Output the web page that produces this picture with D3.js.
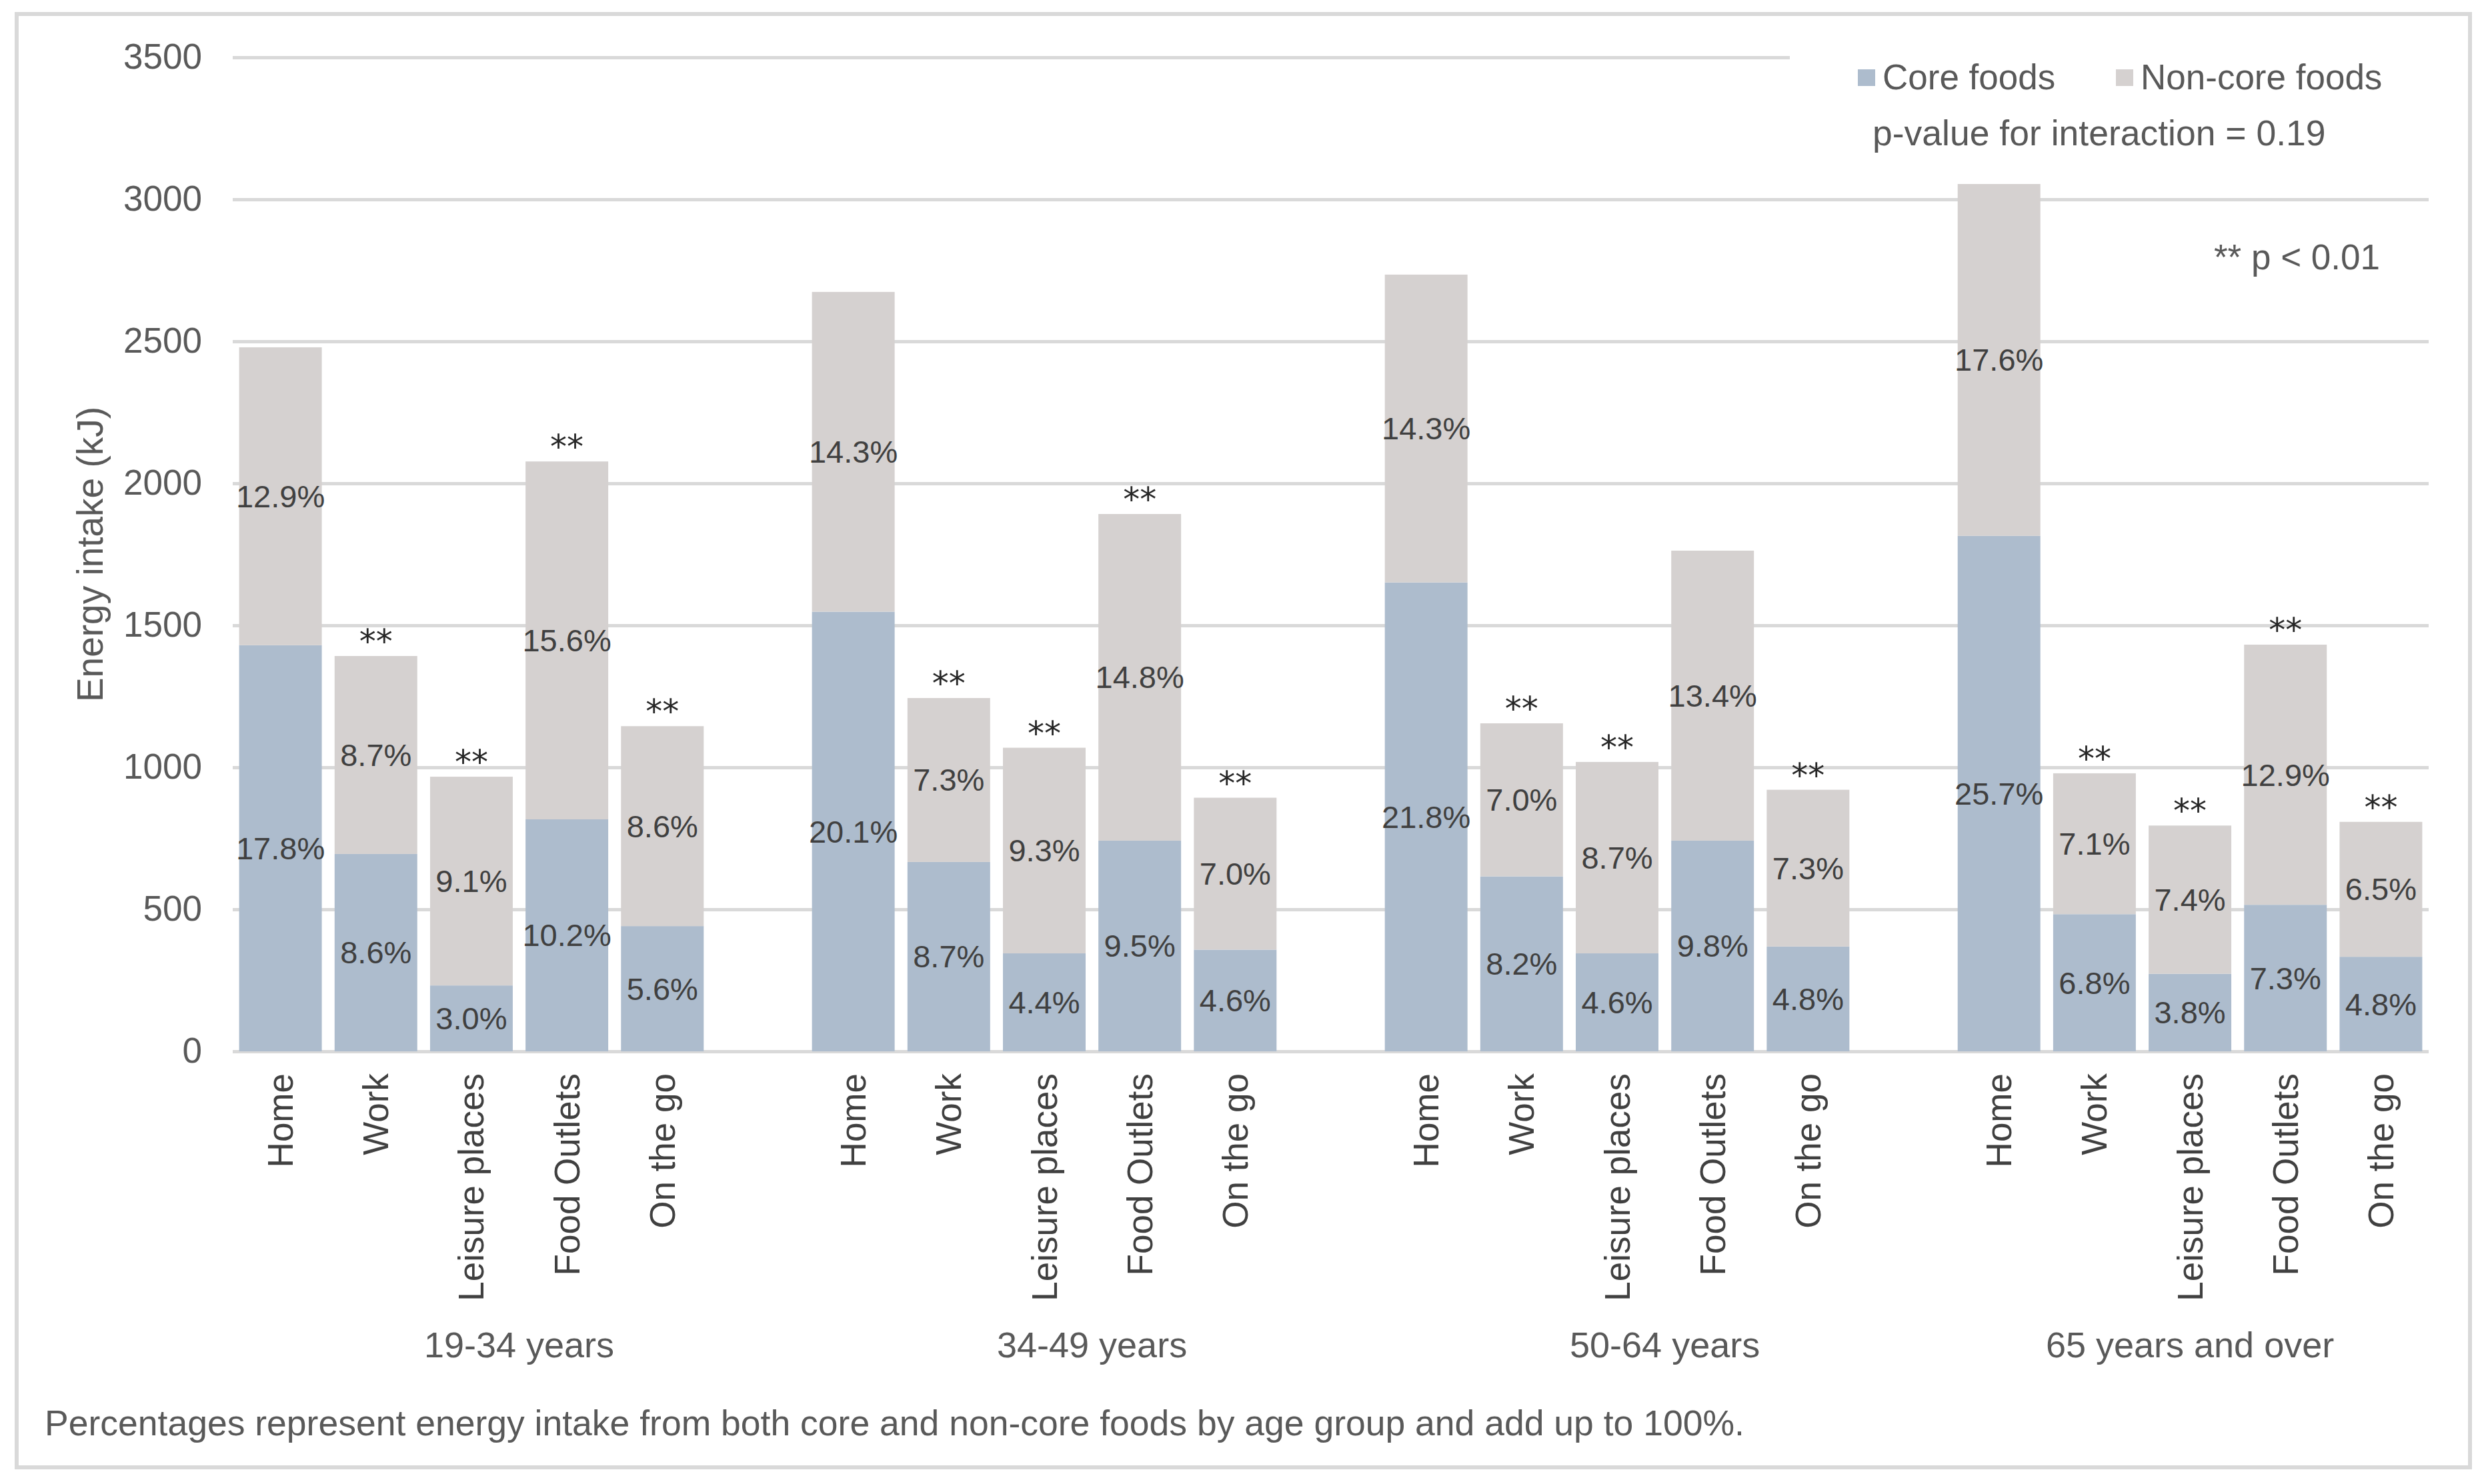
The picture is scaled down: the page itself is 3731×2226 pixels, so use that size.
<!DOCTYPE html>
<html>
<head>
<meta charset="utf-8">
<script src="https://cdn.jsdelivr.net/npm/d3@7"></script>
<style>
body { margin: 0; background: #fff; }
text { font-family: "Liberation Sans", Arial, sans-serif; }
</style>
</head>
<body>
<svg id="chart"></svg>
<script>
var groups = ["19-34 years", "34-49 years", "50-64 years", "65 years and over"];
var places = ["Home", "Work", "Leisure places", "Food Outlets", "On the go"];

// energy intake (kJ) per group, per place
var coreKJ = [
    [1430, 695, 232, 817, 441],
    [1548, 667, 345, 742, 358],
    [1651, 616, 345, 742, 369],
    [1815, 483, 273, 516, 333]
];
var nonCoreKJ = [
    [1049, 697, 735, 1260, 704],
    [1126, 577, 724, 1150, 535],
    [1084, 539, 674, 1021, 552],
    [1239, 496, 522, 916, 475]
];
var corePct = [
    [17.8, 8.6, 3.0, 10.2, 5.6],
    [20.1, 8.7, 4.4, 9.5, 4.6],
    [21.8, 8.2, 4.6, 9.8, 4.8],
    [25.7, 6.8, 3.8, 7.3, 4.8]
];
var nonCorePct = [
    [12.9, 8.7, 9.1, 15.6, 8.6],
    [14.3, 7.3, 9.3, 14.8, 7.0],
    [14.3, 7.0, 8.7, 13.4, 7.3],
    [17.6, 7.1, 7.4, 12.9, 6.5]
];
var stars = [
    [0, 1, 1, 1, 1],
    [0, 1, 1, 1, 1],
    [0, 1, 1, 0, 1],
    [0, 1, 1, 1, 1]
];
var yTicks = [0, 500, 1000, 1500, 2000, 2500, 3000, 3500];

(function () {
    var width = 3731,
        height = 2226,
        left = 349, right = 3642,
        plotTop = 86, plotBottom = 1577,
        coreColor = "#adbccd",
        nonCoreColor = "#d5d1d0",
        gridColor = "#d9d9d9",
        textColor = "#595959";

    var svg = d3.select("#chart").attr("width", width).attr("height", height);

    svg.append("rect").attr("width", width).attr("height", height).style("fill", "#fff");
    svg.append("rect")
        .attr("x", 25).attr("y", 21).attr("width", 3679).attr("height", 2180)
        .style("fill", "none").style("stroke", gridColor).style("stroke-width", 6);

    // slots: 5 places per group, a blank slot after each group but the last
    var slots = [];
    groups.forEach(function (g, gi) {
        places.forEach(function (p) { slots.push(g + "|" + p); });
        if (gi < groups.length - 1) slots.push(g + "|");
    });

    var x = d3.scaleBand().domain(slots).range([left, right])
        .paddingInner(0.134).paddingOuter(0.067);
    var y = d3.scaleLinear().domain([0, 3500]).range([plotBottom, plotTop]);

    var yAxis = svg.append("g")
        .attr("transform", "translate(" + left + ",0)")
        .call(d3.axisLeft(y).tickValues(yTicks).tickFormat(d3.format("d"))
            .tickSizeInner(-(right - left)).tickSizeOuter(0).tickPadding(46));
    yAxis.select(".domain").remove();
    yAxis.selectAll("line").style("stroke", gridColor).style("stroke-width", 5);
    yAxis.selectAll("text")
        .style("font-family", '"Liberation Sans", Arial, sans-serif')
        .style("font-size", "53px").style("fill", textColor);

    // flatten
    var rows = [];
    groups.forEach(function (g, gi) {
        places.forEach(function (p, pi) {
            rows.push({
                key: g + "|" + p, place: p,
                core: coreKJ[gi][pi], non: nonCoreKJ[gi][pi],
                cp: corePct[gi][pi], np: nonCorePct[gi][pi],
                star: stars[gi][pi]
            });
        });
    });

    var bars = svg.append("g");
    bars.selectAll(".core").data(rows).enter().append("rect")
        .attr("x", function (d) { return x(d.key); })
        .attr("width", x.bandwidth())
        .attr("y", function (d) { return y(d.core); })
        .attr("height", function (d) { return y(0) - y(d.core); })
        .style("fill", coreColor);
    bars.selectAll(".non").data(rows).enter().append("rect")
        .attr("x", function (d) { return x(d.key); })
        .attr("width", x.bandwidth())
        .attr("y", function (d) { return y(d.core + d.non); })
        .attr("height", function (d) { return y(d.core) - y(d.core + d.non); })
        .style("fill", nonCoreColor);

    var labels = svg.append("g")
        .style("font-size", "47px").style("fill", "#404040").attr("text-anchor", "middle");
    labels.selectAll(".cl").data(rows).enter().append("text")
        .attr("x", function (d) { return x(d.key) + x.bandwidth() / 2; })
        .attr("y", function (d) { return y(d.core / 2); })
        .attr("dy", "0.35em")
        .text(function (d) { return d.cp.toFixed(1) + "%"; });
    labels.selectAll(".nl").data(rows).enter().append("text")
        .attr("x", function (d) { return x(d.key) + x.bandwidth() / 2; })
        .attr("y", function (d) { return y(d.core + d.non / 2); })
        .attr("dy", "0.35em")
        .text(function (d) { return d.np.toFixed(1) + "%"; });

    svg.append("g").selectAll("text").data(rows.filter(function (d) { return d.star; }))
        .enter().append("text")
        .attr("x", function (d) { return x(d.key) + x.bandwidth() / 2; })
        .attr("y", function (d) { return y(d.core + d.non) - 5; })
        .attr("text-anchor", "middle")
        .style("font-family", '"DejaVu Sans", sans-serif')
        .style("font-size", "50px").style("fill", "#262626")
        .text("**");

    // category labels
    svg.append("g").selectAll("text").data(rows).enter().append("text")
        .attr("transform", function (d) {
            return "translate(" + (x(d.key) + x.bandwidth() / 2) + ",1610) rotate(-90)";
        })
        .attr("dy", "0.35em")
        .attr("text-anchor", "end")
        .style("font-size", "53px").style("fill", "#404040")
        .text(function (d) { return d.place; });

    // group labels, centred on the group's slots
    svg.append("g").selectAll("text").data(groups).enter().append("text")
        .attr("x", function (g) {
            var own = slots.filter(function (s) { return s.split("|")[0] === g; });
            var a = x(own[0]) + x.bandwidth() / 2,
                b = x(own[own.length - 1]) + x.bandwidth() / 2;
            return (a + b) / 2;
        })
        .attr("y", 2036)
        .attr("text-anchor", "middle")
        .style("font-size", "54px").style("fill", textColor)
        .text(function (g) { return g; });

    // y title
    svg.append("text")
        .attr("transform", "translate(154," + ((plotTop + plotBottom) / 2) + ") rotate(-90)")
        .attr("text-anchor", "middle")
        .style("font-size", "55px").style("fill", textColor)
        .text("Energy intake (kJ)");

    // legend
    var legend = svg.append("g");
    legend.append("rect").attr("x", 2684).attr("y", 40).attr("width", 1010).attr("height", 210).style("fill", "#fff");
    var legendItems = [
        {name: "Core foods", color: coreColor, x: 2786},
        {name: "Non-core foods", color: nonCoreColor, x: 3173}
    ];
    legend.selectAll(".sw").data(legendItems).enter().append("rect")
        .attr("x", function (d) { return d.x; }).attr("y", 104)
        .attr("width", 26).attr("height", 25)
        .style("fill", function (d) { return d.color; });
    legend.selectAll(".lt").data(legendItems).enter().append("text")
        .attr("x", function (d) { return d.x + 37; }).attr("y", 134)
        .style("font-size", "53px").style("fill", textColor)
        .text(function (d) { return d.name; });
    legend.append("text").attr("x", 2808).attr("y", 218)
        .style("font-size", "53.5px").style("fill", textColor)
        .text("p-value for interaction = 0.19");

    svg.append("text").attr("x", 3569).attr("y", 404).attr("text-anchor", "end")
        .style("font-size", "53px").style("fill", textColor)
        .text("** p < 0.01");

    svg.append("text").attr("x", 67).attr("y", 2153)
        .style("font-size", "53.5px").style("fill", textColor)
        .text("Percentages represent energy intake from both core and non-core foods by age group and add up to 100%.");
}());
</script>
</body>
</html>
